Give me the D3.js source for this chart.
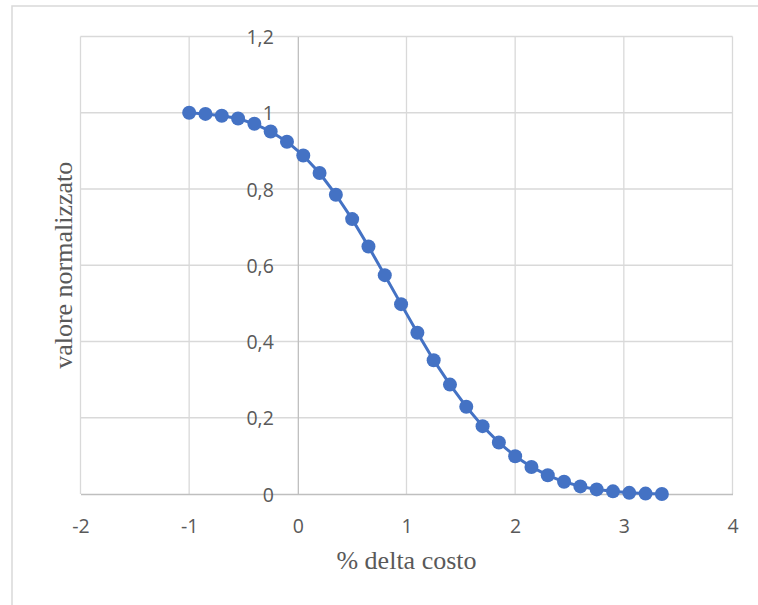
<!DOCTYPE html>
<html>
<head>
<meta charset="utf-8">
<script src="https://cdn.jsdelivr.net/npm/d3@7"></script>
<style>
  html, body { margin: 0; padding: 0; background: #fff; }
  svg { display: block; }
</style>
</head>
<body>
<svg id="chart" width="758" height="605"></svg>
<script>
// Percent cost change and the normalized value at each step
const deltaCosto = [-1.00, -0.85, -0.70, -0.55, -0.40, -0.25, -0.10, 0.05, 0.20, 0.35,
                    0.50, 0.65, 0.80, 0.95, 1.10, 1.25, 1.40, 1.55, 1.70, 1.85,
                    2.00, 2.15, 2.30, 2.45, 2.60, 2.75, 2.90, 3.05, 3.20, 3.35];
const valoreNormalizzato = [1.000, 0.997, 0.992, 0.985, 0.971, 0.951, 0.924, 0.888, 0.842, 0.785,
                            0.721, 0.649, 0.574, 0.498, 0.423, 0.351, 0.287, 0.229, 0.178, 0.135,
                            0.099, 0.071, 0.049, 0.032, 0.020, 0.012, 0.007, 0.003, 0.001, 0.000];
const xTicks = [-2, -1, 0, 1, 2, 3, 4];
const yTicks = [0, 0.2, 0.4, 0.6, 0.8, 1, 1.2];
const xTitle = "% delta costo";
const yTitle = "valore normalizzato";

const svg = d3.select("#chart");
const plot = { left: 80.5, right: 732.5, top: 36.5, bottom: 494 };

const x = d3.scaleLinear().domain([-2, 4]).range([plot.left, plot.right]);
const y = d3.scaleLinear().domain([0, 1.2]).range([plot.bottom, plot.top]);

const fmt = v => String(+v.toFixed(1)).replace(".", ",");
const tickFont = "'Open Sans', 'Noto Sans', sans-serif";
const titleFont = "'Liberation Serif', 'Times New Roman', serif";

// Chart frame
svg.append("rect")
  .attr("x", 12).attr("y", 6)
  .attr("width", 800).attr("height", 700)
  .attr("fill", "none")
  .attr("stroke", "#d9d9d9")
  .attr("stroke-width", 1.5);

// Gridlines
const grid = svg.append("g").attr("stroke", "#d9d9d9").attr("stroke-width", 1.3);
grid.selectAll("line.h").data(yTicks.filter(d => d !== 0)).join("line")
  .attr("x1", plot.left).attr("x2", plot.right)
  .attr("y1", d => y(d)).attr("y2", d => y(d));
grid.selectAll("line.v").data(xTicks.filter(d => d !== 0)).join("line")
  .attr("x1", d => x(d)).attr("x2", d => x(d))
  .attr("y1", plot.top).attr("y2", plot.bottom);

// Axis lines crossing at the origin
const axisX = d3.axisBottom(x).tickValues(xTicks).tickSize(0).tickFormat(d => fmt(d));
const axisY = d3.axisLeft(y).tickValues(yTicks).tickSize(0).tickFormat(d => fmt(d));

const gx = svg.append("g").attr("transform", `translate(0,${y(0)})`).call(axisX);
gx.select(".domain").attr("stroke", "#bfbfbf").attr("stroke-width", 1.3);
gx.selectAll(".tick text")
  .attr("y", 39).attr("dy", 0)
  .attr("fill", "#595959")
  .style("font-family", tickFont).style("font-size", "19.5px");

const gy = svg.append("g").attr("transform", `translate(${x(0)},0)`).call(axisY);
gy.select(".domain").attr("stroke", "#bfbfbf").attr("stroke-width", 1.3);
gy.selectAll(".tick text")
  .attr("x", -24).attr("dy", "0.36em")
  .attr("fill", "#595959")
  .style("font-family", tickFont).style("font-size", "19.5px");

// Series
const pts = deltaCosto.map((d, i) => [d, valoreNormalizzato[i]]);
const line = d3.line().x(d => x(d[0])).y(d => y(d[1]));

svg.append("path")
  .datum(pts)
  .attr("d", line)
  .attr("fill", "none")
  .attr("stroke", "#4472c4")
  .attr("stroke-width", 3)
  .attr("stroke-linejoin", "round");

svg.append("g").selectAll("circle").data(pts).join("circle")
  .attr("cx", d => x(d[0]))
  .attr("cy", d => y(d[1]))
  .attr("r", 7)
  .attr("fill", "#4472c4");

// Axis titles
svg.append("text")
  .attr("x", (plot.left + plot.right) / 2)
  .attr("y", 569)
  .attr("text-anchor", "middle")
  .attr("fill", "#595959")
  .style("font-family", titleFont).style("font-size", "26px")
  .text(xTitle);

svg.append("text")
  .attr("transform", `translate(72,${(plot.top + plot.bottom) / 2}) rotate(-90)`)
  .attr("text-anchor", "middle")
  .attr("fill", "#595959")
  .style("font-family", titleFont).style("font-size", "26px")
  .text(yTitle);
</script>
</body>
</html>
